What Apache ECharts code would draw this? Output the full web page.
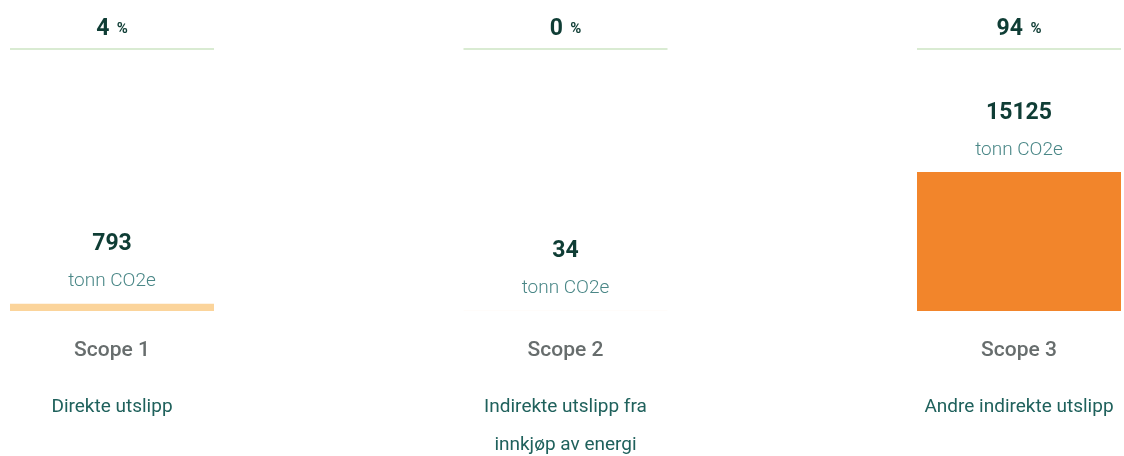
<!DOCTYPE html>
<html>
<head>
<meta charset="utf-8">
<script src="https://cdn.jsdelivr.net/npm/echarts@6/dist/echarts.min.js"></script>
<style>
  html, body { margin: 0; padding: 0; background: #fff; }
  #chart { width: 1124px; height: 456px; }
</style>
</head>
<body>
<div id="chart"></div>
<script>
var scopes = ['Scope 1', 'Scope 2', 'Scope 3'];
var emissions = [793, 34, 15125];
var shares = [4, 0, 94];
var descriptions = [
  ['Direkte utslipp'],
  ['Indirekte utslipp fra', 'innkjøp av energi'],
  ['Andre indirekte utslipp']
];
var barColors = ['#fbd49b', '#fdf4ea', '#f2852b'];

var chartDom = document.getElementById('chart');
var myChart = echarts.init(chartDom);
var option;

option = {
  textStyle: { fontFamily: 'Roboto' },
  grid: {
    top: 172,
    bottom: 145,
    left: 112,
    right: 104
  },
  xAxis: [
    {
      type: 'category',
      data: scopes,
      boundaryGap: false,
      position: 'bottom',
      axisLine: { show: false },
      axisTick: { show: false },
      axisLabel: {
        interval: 0,
        margin: 3,
        formatter: function (value, idx) {
          var lines = descriptions[idx].map(function (l) { return '{d|' + l + '}'; });
          return '{s|' + value + '}\n' + lines.join('\n');
        },
        rich: {
          s: { fontSize: 21, fontWeight: 500, color: '#676d6d', lineHeight: 74, fontFamily: 'Roboto' },
          d: { fontSize: 19, color: '#1f615c', lineHeight: 38, fontFamily: 'Roboto' }
        }
      }
    },
    {
      type: 'category',
      data: scopes,
      boundaryGap: false,
      position: 'top',
      axisLine: { show: false },
      axisTick: { show: false },
      axisLabel: {
        interval: 0,
        margin: 122,
        formatter: function (value, idx) {
          return '{p|' + shares[idx] + '}{u|  %}\n{l|}';
        },
        rich: {
          p: { fontSize: 23, fontWeight: 'bold', color: '#0f3d35', lineHeight: 38, fontFamily: 'Roboto' },
          u: { fontSize: 15, fontWeight: 'bold', color: '#0f3d35', lineHeight: 38, fontFamily: 'Roboto' },
          l: { width: 204, height: 2, lineHeight: 2, backgroundColor: '#d9ebd2' }
        }
      }
    }
  ],
  yAxis: {
    type: 'value',
    min: 0,
    max: 15125,
    show: false,
    splitLine: { show: false }
  },
  series: [
    {
      type: 'bar',
      xAxisIndex: 0,
      barWidth: 204,
      clip: false,
      data: emissions.map(function (v, i) {
        return { value: v, itemStyle: { color: barColors[i] } };
      }),
      label: {
        show: true,
        position: 'top',
        distance: 10,
        formatter: function (p) {
          return '{v|' + p.value + '}\n{u|tonn CO2e}';
        },
        rich: {
          v: { fontSize: 23, fontWeight: 'bold', color: '#0f3d35', lineHeight: 50, fontFamily: 'Roboto' },
          u: { fontSize: 19, fontWeight: 300, color: '#4a8787', lineHeight: 24, fontFamily: 'Roboto' }
        }
      },
      silent: true
    }
  ]
};

option && myChart.setOption(option);
window.addEventListener('resize', function () {
  myChart.resize();
});
</script>
</body>
</html>
